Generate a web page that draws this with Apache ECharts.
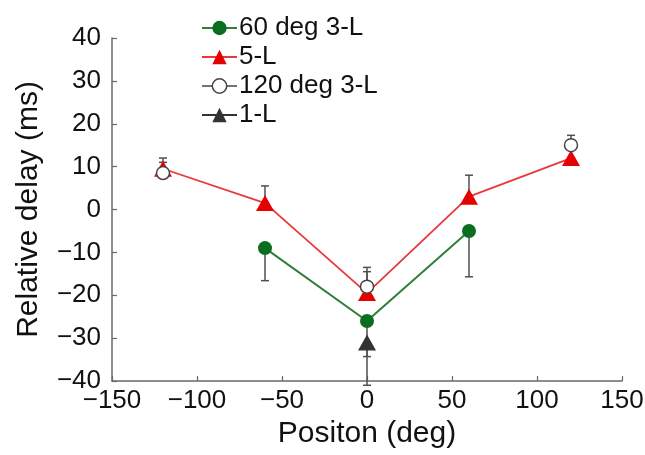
<!DOCTYPE html>
<html>
<head>
<meta charset="utf-8">
<script src="https://cdn.jsdelivr.net/npm/echarts@6/dist/echarts.min.js"></script>
<style>html,body{margin:0;padding:0;background:#fff;}#c{width:645px;height:455px;}</style>
</head>
<body>
<div id="c"></div>
<script>
// Data
const xTicks = [-150, -100, -50, 0, 50, 100, 150];
const yTicks = [-40, -30, -20, -10, 0, 10, 20, 30, 40];

const pos5L = [-120, -60, 0, 60, 120];
const delay5L = [9.5, 1.5, -19.5, 3, 12];
const err5LTop = [12, 5.5, -14.5, 8, 14];

const pos60 = [-60, 0, 60];
const delay60 = [-9, -26, -5];
const err60Bottom = [-16.6, -41, -15.7];

const pos120 = [-120, 0, 120];
const delay120 = [8.5, -18, 15];
const err120Top = [11, -13.5, 17.3];

const pos1L = [0];
const delay1L = [-31];
const err1LBottom = [-34.3];

const FONT = '"Liberation Sans", Arial, Helvetica, sans-serif';
const minus = v => String(v).replace('-', '\u2212');

const pairs = (xs, ys) => xs.map((x, i) => [x, ys[i]]);
const triples = (xs, ys, es) => xs.map((x, i) => [x, ys[i], es[i]]);

const ERR_COLOR = '#505050';
function errRender(params, api) {
  const x = api.value(0), y0 = api.value(1), y1 = api.value(2);
  const p0 = api.coord([x, y0]);
  const p1 = api.coord([x, y1]);
  const hw = 4;
  return {
    type: 'group',
    children: [
      { type: 'line', shape: { x1: p0[0], y1: p0[1], x2: p1[0], y2: p1[1] }, style: { stroke: ERR_COLOR, lineWidth: 1.5 } },
      { type: 'line', shape: { x1: p1[0] - hw, y1: p1[1], x2: p1[0] + hw, y2: p1[1] }, style: { stroke: ERR_COLOR, lineWidth: 1.5 } }
    ]
  };
}

const GREEN = '#0b6e1f', GREEN_LINE = '#2f7f3a';
const RED = '#e60000', RED_LINE = '#e8383a';
const DARK = '#333333';

const chart = echarts.init(document.getElementById('c'), null, { renderer: 'canvas' });
chart.setOption({
  animation: false,
  backgroundColor: '#ffffff',
  textStyle: { fontFamily: FONT },
  grid: { left: 112, right: 23, top: 38, bottom: 74, outerBoundsMode: 'none', containLabel: false },
  legend: {
    orient: 'vertical',
    left: 196,
    top: 10,
    itemWidth: 35,
    itemHeight: 18,
    itemGap: 3,
    textStyle: { fontSize: 26, color: '#111', fontFamily: FONT, lineHeight: 26, padding: [0, 0, 0, -3] },
    data: [
      { name: '60 deg 3-L', itemStyle: { color: GREEN, borderWidth: 0 }, lineStyle: { color: GREEN_LINE, width: 2 } },
      { name: '5-L', itemStyle: { color: RED, borderWidth: 0 }, lineStyle: { color: RED_LINE, width: 2 } },
      { name: '120 deg 3-L', itemStyle: { color: '#ffffff', borderColor: '#444', borderWidth: 1.5 }, lineStyle: { color: '#444', width: 1.5, opacity: 1 } },
      { name: '1-L', itemStyle: { color: DARK, borderWidth: 0 }, lineStyle: { color: DARK, width: 2, opacity: 1 } }
    ]
  },
  xAxis: {
    type: 'value',
    min: -150, max: 150, interval: 50,
    name: 'Positon (deg)',
    nameLocation: 'middle',
    nameGap: 36,
    nameTextStyle: { fontSize: 30, color: '#111', fontFamily: FONT },
    axisLine: { show: true, onZero: false, lineStyle: { color: '#6a6a6a', width: 1.5 } },
    axisTick: { show: true, inside: true, length: 5, lineStyle: { color: '#6a6a6a', width: 1.2 } },
    axisLabel: { fontSize: 26, color: '#111', margin: 7, fontFamily: FONT, formatter: minus, showMinLabel: true, showMaxLabel: true },
    splitLine: { show: false }
  },
  yAxis: {
    type: 'value',
    min: -40, max: 40, interval: 10,
    name: 'Relative delay (ms)',
    nameLocation: 'middle',
    nameGap: 68,
    nameTextStyle: { fontSize: 30, color: '#111', fontFamily: FONT },
    axisLine: { show: true, onZero: false, lineStyle: { color: '#6a6a6a', width: 1.5 } },
    axisTick: { show: true, inside: true, length: 5, lineStyle: { color: '#6a6a6a', width: 1.2 } },
    axisLabel: { fontSize: 26, color: '#111', margin: 11, fontFamily: FONT, formatter: minus, showMinLabel: true, showMaxLabel: true },
    splitLine: { show: false }
  },
  series: [
    { name: 'err60', type: 'custom', renderItem: errRender, data: triples(pos60, delay60, err60Bottom), z: 1, clip: false, silent: true },
    { name: 'err5L', type: 'custom', renderItem: errRender, data: triples(pos5L, delay5L, err5LTop), z: 1, clip: false, silent: true },
    { name: 'err120', type: 'custom', renderItem: errRender, data: triples(pos120, delay120, err120Top), z: 1, clip: false, silent: true },
    { name: 'err1L', type: 'custom', renderItem: errRender, data: triples(pos1L, delay1L, err1LBottom), z: 1, clip: false, silent: true },
    {
      name: '60 deg 3-L', type: 'line', data: pairs(pos60, delay60), z: 3,
      symbol: 'circle', symbolSize: 14,
      itemStyle: { color: GREEN },
      lineStyle: { color: GREEN_LINE, width: 2 }
    },
    {
      name: '5-L', type: 'line', data: pairs(pos5L, delay5L), z: 3,
      symbol: 'triangle', symbolSize: [18, 16],
      itemStyle: { color: RED },
      lineStyle: { color: RED_LINE, width: 1.8 }
    },
    {
      name: '120 deg 3-L', type: 'line', data: pairs(pos120, delay120), z: 4,
      symbol: 'circle', symbolSize: 13,
      itemStyle: { color: '#ffffff', borderColor: '#444', borderWidth: 1.5 },
      lineStyle: { opacity: 0, width: 0 }
    },
    {
      name: '1-L', type: 'line', data: pairs(pos1L, delay1L), z: 4,
      symbol: 'triangle', symbolSize: [18, 16],
      itemStyle: { color: DARK },
      lineStyle: { color: DARK, width: 2 }
    }
  ]
});
</script>
</body>
</html>
